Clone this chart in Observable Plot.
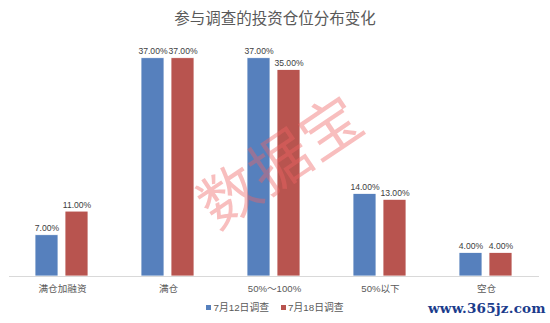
<!DOCTYPE html>
<html>
<head>
<meta charset="utf-8">
<script src="https://cdn.jsdelivr.net/npm/d3@7"></script>
<script src="https://cdn.jsdelivr.net/npm/@observablehq/plot@0.6"></script>
<style>
  html, body { margin: 0; padding: 0; background: #fff; }
  #wrap { position: relative; width: 550px; height: 323px; overflow: hidden; font-family: "Liberation Sans", "Noto Sans CJK SC", sans-serif; }
  #title { position: absolute; left: 0; top: 6px; width: 550px; text-align: center; font-size: 15.5px; line-height: 22px; color: #595959; font-family: "Noto Sans CJK SC", sans-serif; }
  #chart { position: absolute; left: 0; top: 30px; }
  #legend { position: absolute; left: 0; top: 301px; width: 550px; text-align: center; font-size: 9.8px; line-height: 14px; color: #595959; }
  #legend span.item { display: inline-block; margin: 0 6px; }
  #legend i { display: inline-block; width: 5px; height: 5px; margin-right: 2px; vertical-align: 1px; }
  #wm { position: absolute; left: 173px; top: 127px; width: 210px; text-align: center; font-size: 60px; line-height: 62px; color: rgba(238, 100, 100, 0.42); transform: rotate(-34deg); font-family: "Noto Sans CJK SC", sans-serif; font-weight: 400; letter-spacing: 1px; pointer-events: none; }
  #site { position: absolute; left: 428px; top: 300px; font-family: "DejaVu Serif", serif; font-weight: bold; font-size: 13.5px; color: #1b3c8c; letter-spacing: 0.2px; }
</style>
</head>
<body>
<div id="wrap">
  <div id="title">参与调查的投资仓位分布变化</div>
  <div id="chart"></div>
  <div id="legend"></div>
  <div id="wm">数据宝</div>
  <div id="site">www.365jz.com</div>
</div>
<script>
const categories = ["满仓加融资", "满仓", "50%～100%", "50%以下", "空仓"];
const series = ["7月12日调查", "7月18日调查"];
const jul12 = [7, 37, 37, 14, 4];
const jul18 = [11, 37, 35, 13, 4];
const colors = ["#5680BD", "#B8544F"];

const data = [];
categories.forEach((c, i) => {
  data.push({category: c, series: series[0], value: jul12[i]});
  data.push({category: c, series: series[1], value: jul18[i]});
});

const chart = Plot.plot({
  width: 550,
  height: 272,
  marginTop: 10,
  marginBottom: 26,
  marginLeft: 9,
  marginRight: 11,
  style: {fontFamily: '"Liberation Sans", "Noto Sans CJK SC", sans-serif', background: "#fff"},
  fx: {domain: categories, padding: 0, label: null, tickSize: 0, tickPadding: 9, axis: "bottom"},
  x: {domain: series, paddingInner: 0.23, paddingOuter: 0.852, axis: null},
  y: {domain: [0, 40], axis: null},
  color: {domain: series, range: colors},
  marks: [
    Plot.barY(data, {fx: "category", x: "series", y: "value", fill: "series", stroke: "#fff", strokeWidth: 0.8}),
    Plot.text(data, {fx: "category", x: "series", y: "value", text: d => d.value.toFixed(2) + "%", dy: -4, lineAnchor: "bottom", fontSize: 8.6, fill: "#404040"}),
    Plot.ruleY([0], {stroke: "#d9d9d9", strokeWidth: 1})
  ]
});
chart.querySelectorAll('g[aria-label="fx-axis tick label"] text, g[aria-label="fx-axis tick label"]').forEach(el => {
  el.setAttribute("fill", "#595959");
  el.setAttribute("font-size", "9.6");
});
document.getElementById("chart").appendChild(chart);

const legend = document.getElementById("legend");
series.forEach((s, i) => {
  const item = document.createElement("span");
  item.className = "item";
  const sw = document.createElement("i");
  sw.style.background = colors[i];
  item.appendChild(sw);
  item.appendChild(document.createTextNode(s));
  legend.appendChild(item);
});
</script>
</body>
</html>
